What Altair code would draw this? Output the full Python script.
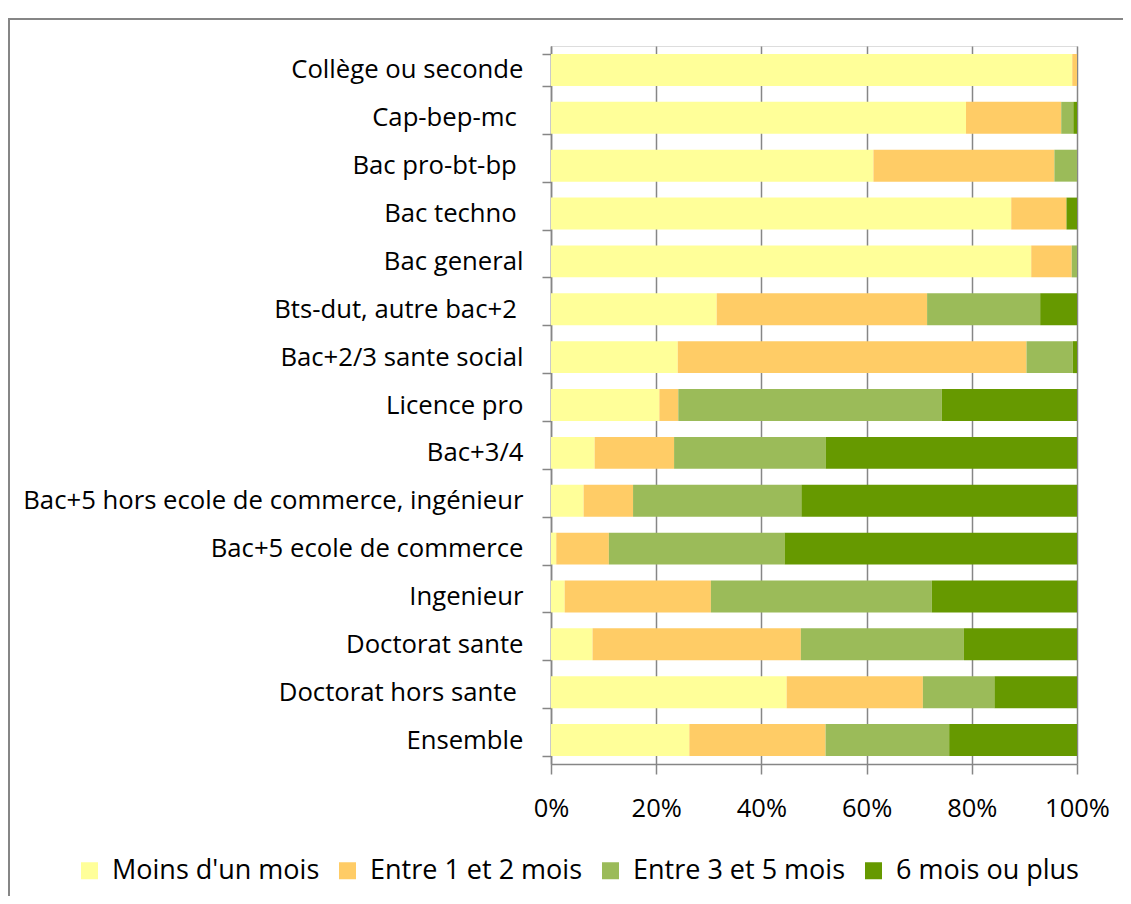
import altair as alt
import pandas as pd

SP = "\u00a0\u200b"
categories = [
    "Collège ou seconde",
    "Cap-bep-mc" + SP,
    "Bac pro-bt-bp" + SP,
    "Bac techno" + SP,
    "Bac general",
    "Bts-dut, autre bac+2" + SP,
    "Bac+2/3 sante social",
    "Licence pro",
    "Bac+3/4",
    "Bac+5 hors ecole de commerce, ingénieur",
    "Bac+5 ecole de commerce",
    "Ingenieur",
    "Doctorat sante",
    "Doctorat hors sante" + SP,
    "Ensemble",
]
series = ["Moins d'un mois", "Entre 1 et 2 mois", "Entre 3 et 5 mois", "6 mois ou plus"]
colors = ["#FFFF99", "#FFCC66", "#9BBB59", "#669900"]

moins_un_mois = [99.1, 78.9, 61.3, 87.5, 91.3, 31.5, 24.1, 20.6, 8.3, 6.2, 1.0, 2.6, 7.9, 44.8, 26.3]
entre_1_2 = [0.9, 18.1, 34.4, 10.5, 7.7, 40.0, 66.3, 3.6, 15.1, 9.4, 10.0, 27.8, 39.6, 25.9, 25.9]
entre_3_5 = [0.0, 2.3, 4.3, 0.0, 1.0, 21.5, 8.8, 50.1, 28.8, 32.0, 33.4, 42.0, 31.0, 13.6, 23.5]
six_plus = [0.0, 0.7, 0.0, 2.0, 0.0, 7.0, 0.8, 25.7, 47.8, 52.4, 55.6, 27.6, 21.5, 15.7, 24.3]

rows = []
for i, c in enumerate(categories):
    for j, vals in enumerate([moins_un_mois, entre_1_2, entre_3_5, six_plus]):
        rows.append({"cat": c, "serie": series[j], "ordre": j, "value": vals[i]})
df = pd.DataFrame(rows)

FONT = "Open Sans"
GRAY = "#868686"

bars = alt.Chart(df).mark_bar().encode(
    y=alt.Y(
        "cat:N",
        sort=categories,
        scale=alt.Scale(paddingInner=0.333, paddingOuter=0.167),
        axis=alt.Axis(
            title=None, tickBand="extent", labelFontSize=25.7, labelFont=FONT,
            labelColor="black", tickSize=9, tickColor=GRAY, domainColor=GRAY,
            tickWidth=1.5, domainWidth=1.5, labelPadding=19, labelLimit=0, grid=False,
        ),
    ),
    x=alt.X(
        "value:Q",
        stack="normalize",
        scale=alt.Scale(domain=[0, 1], nice=False),
        axis=alt.Axis(
            title=None, format="%", values=[0, 0.2, 0.4, 0.6, 0.8, 1.0],
            labelFontSize=25.5, labelFont=FONT, labelColor="black",
            tickSize=10, tickColor=GRAY, domainColor=GRAY, tickWidth=1.5,
            domainWidth=1.5, grid=True, gridColor=GRAY, gridWidth=1.5,
            labelPadding=22, labelFlush=False,
        ),
    ),
    color=alt.Color(
        "serie:N",
        sort=series,
        scale=alt.Scale(domain=series, range=colors),
        legend=alt.Legend(
            title=None, orient="none", legendX=-475, legendY=811, padding=0,
            direction="horizontal", symbolType="square", symbolSize=289,
            symbolStrokeWidth=0, labelFontSize=27, labelFont=FONT,
            labelColor="black", columnPadding=14, labelOffset=9, labelLimit=0,
        ),
    ),
    order=alt.Order("ordre:Q"),
)

one = pd.DataFrame({"k": [0]})
border_top = alt.Chart(one).mark_rule(color=GRAY, strokeWidth=2).encode(
    x=alt.value(-543), x2=alt.value(620), y=alt.value(-27)
)
border_left = alt.Chart(one).mark_rule(color=GRAY, strokeWidth=2).encode(
    x=alt.value(-542), y=alt.value(-27), y2=alt.value(900)
)

chart = alt.layer(bars, border_top, border_left).properties(
    width=526, height=718,
    autosize=alt.AutoSizeParams(type="none"),
    padding={"left": 543, "top": 38, "right": 46, "bottom": 132},
).configure_view(stroke=None).configure(background="white")

chart.save("out.html", embed_options={"renderer": "svg", "actions": False})
